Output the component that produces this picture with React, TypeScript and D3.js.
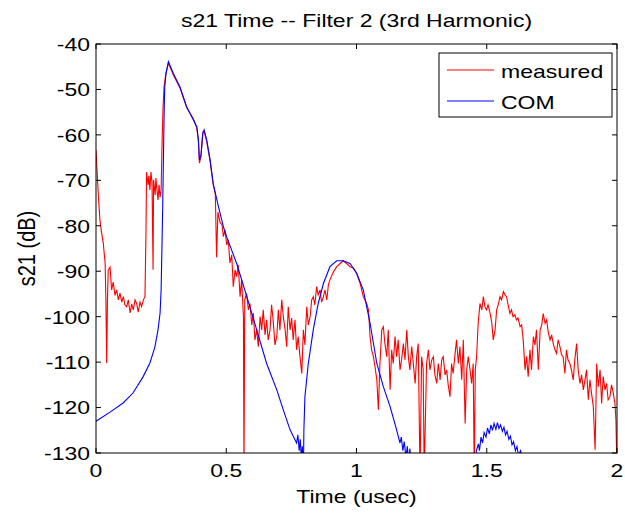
import React from "react";
import * as d3 from "d3";

// ---- data ----
const measuredT = [
  0.000, 0.004, 0.010, 0.015, 0.021, 0.028, 0.032, 0.035, 0.038, 0.041, 0.044, 0.047, 0.054, 0.060, 0.066,
  0.073, 0.079, 0.086, 0.092, 0.099, 0.105, 0.111, 0.118, 0.124, 0.131, 0.137, 0.143, 0.150, 0.156, 0.162,
  0.169, 0.175, 0.182, 0.188, 0.192, 0.194, 0.200, 0.203, 0.207, 0.211, 0.215, 0.219, 0.221, 0.227, 0.230,
  0.234, 0.238, 0.242, 0.246, 0.250, 0.253, 0.257, 0.261, 0.268, 0.278, 0.297, 0.322, 0.348, 0.374, 0.387,
  0.393, 0.397, 0.403, 0.410, 0.415, 0.425, 0.438, 0.450, 0.458, 0.463, 0.468, 0.476, 0.484, 0.489, 0.495,
  0.502, 0.508, 0.514, 0.521, 0.527, 0.534, 0.540, 0.546, 0.553, 0.559, 0.566, 0.568, 0.571, 0.578, 0.585,
  0.591, 0.598, 0.604, 0.610, 0.617, 0.623, 0.630, 0.636, 0.642, 0.649, 0.655, 0.661, 0.668, 0.674, 0.680,
  0.687, 0.694, 0.700, 0.706, 0.713, 0.719, 0.726, 0.732, 0.738, 0.745, 0.751, 0.757, 0.764, 0.770, 0.776,
  0.783, 0.790, 0.796, 0.802, 0.809, 0.815, 0.822, 0.828, 0.834, 0.840, 0.847, 0.853, 0.860, 0.866, 0.873,
  0.879, 0.886, 0.892, 0.898, 0.911, 0.924, 0.937, 0.949, 0.962, 0.975, 0.988, 1.001, 1.014, 1.026, 1.039,
  1.046, 1.052, 1.058, 1.065, 1.071, 1.078, 1.084, 1.090, 1.097, 1.103, 1.109, 1.116, 1.122, 1.129, 1.135,
  1.141, 1.148, 1.154, 1.160, 1.167, 1.173, 1.180, 1.186, 1.193, 1.199, 1.205, 1.212, 1.218, 1.225, 1.231,
  1.237, 1.244, 1.250, 1.256, 1.260, 1.269, 1.276, 1.282, 1.289, 1.295, 1.301, 1.308, 1.314, 1.321, 1.327,
  1.333, 1.340, 1.346, 1.352, 1.359, 1.365, 1.371, 1.378, 1.384, 1.391, 1.397, 1.404, 1.410, 1.417, 1.423,
  1.429, 1.436, 1.442, 1.448, 1.452, 1.456, 1.461, 1.467, 1.474, 1.481, 1.487, 1.493, 1.499, 1.505, 1.513,
  1.519, 1.525, 1.532, 1.538, 1.544, 1.551, 1.557, 1.564, 1.570, 1.576, 1.582, 1.589, 1.595, 1.601, 1.608,
  1.614, 1.620, 1.628, 1.634, 1.640, 1.647, 1.653, 1.659, 1.666, 1.672, 1.679, 1.685, 1.691, 1.698, 1.705,
  1.711, 1.717, 1.724, 1.730, 1.736, 1.743, 1.749, 1.755, 1.762, 1.768, 1.774, 1.781, 1.787, 1.793, 1.800,
  1.806, 1.812, 1.819, 1.825, 1.832, 1.838, 1.845, 1.851, 1.858, 1.864, 1.871, 1.877, 1.883, 1.890, 1.896,
  1.903, 1.909, 1.916, 1.922, 1.928, 1.935, 1.941, 1.947, 1.954, 1.960, 1.966, 1.973, 1.979, 1.986, 1.992,
  1.996, 2.000,
];
const measuredDb = [
  -63.3, -67.7, -74.3, -78.7, -81.4, -83.8, -86.4, -88.2, -96.3, -110.2, -96.3, -89.7, -89.1, -94.1, -92.4,
  -95.3, -94.1, -96.3, -94.8, -96.8, -95.6, -97.4, -97.8, -96.3, -99.2, -97.2, -98.5, -96.3, -97.1, -99.0,
  -96.8, -97.8, -96.3, -95.6, -80.9, -68.2, -71.0, -69.0, -72.1, -68.2, -70.4, -89.7, -69.9, -73.2, -69.5,
  -72.1, -74.3, -71.0, -73.7, -72.1, -63.3, -54.5, -49.5, -46.6, -44.2, -46.8, -49.6, -54.0, -56.5, -58.5,
  -61.3, -66.2, -64.8, -59.4, -59.2, -61.5, -65.8, -71.0, -73.0, -86.9, -77.0, -79.2, -79.8, -82.4, -80.9,
  -84.2, -83.1, -88.2, -86.4, -93.4, -89.7, -91.2, -88.6, -95.6, -91.9, -100.0, -135.0, -96.3, -94.9, -98.5,
  -97.1, -101.8, -99.2, -105.1, -102.9, -106.6, -100.0, -102.9, -98.5, -104.0, -100.7, -105.1, -102.9, -97.4, -100.7,
  -106.2, -104.4, -98.5, -102.9, -96.3, -100.0, -102.9, -106.6, -97.8, -102.9, -100.3, -105.1, -100.7, -107.3, -104.4,
  -108.8, -112.5, -102.9, -106.2, -97.8, -101.8, -100.0, -96.3, -95.6, -97.4, -93.4, -95.2, -94.1, -96.8, -95.6,
  -94.1, -96.3, -93.0, -91.9, -90.2, -89.0, -88.3, -87.7, -88.3, -89.0, -89.3, -90.5, -92.7, -95.6, -97.1,
  -98.5, -104.4, -107.3, -108.8, -111.0, -113.9, -120.5, -110.3, -102.9, -102.2, -105.9, -108.8, -102.9, -116.1, -107.3,
  -110.3, -104.4, -108.8, -105.1, -111.7, -109.5, -105.9, -109.5, -102.9, -108.8, -111.7, -106.6, -110.3, -114.7, -108.8,
  -105.9, -135.0, -108.8, -111.7, -135.0, -110.3, -107.3, -111.7, -109.5, -108.8, -112.8, -114.7, -110.3, -113.9, -109.5,
  -108.8, -112.8, -111.7, -115.0, -117.6, -110.3, -112.5, -108.4, -105.1, -110.3, -106.6, -113.9, -105.1, -123.5, -111.7,
  -108.8, -111.7, -114.7, -110.3, -135.0, -111.7, -108.8, -101.5, -97.1, -98.5, -95.6, -97.8, -98.5, -97.4, -99.3,
  -101.2, -105.1, -102.9, -98.5, -97.4, -95.6, -96.3, -94.5, -95.2, -95.6, -97.4, -99.3, -98.5, -100.0, -99.6,
  -100.7, -100.3, -102.2, -101.8, -105.1, -111.7, -108.8, -113.2, -107.3, -111.7, -104.4, -106.2, -102.9, -111.7, -102.9,
  -101.8, -99.3, -101.5, -100.7, -103.4, -105.1, -104.0, -105.9, -107.3, -108.1, -105.1, -106.6, -108.4, -108.8, -112.5,
  -107.3, -109.5, -110.3, -111.7, -113.9, -109.5, -105.9, -111.7, -114.7, -112.8, -116.1, -113.9, -111.7, -118.3, -113.9,
  -117.2, -119.8, -129.3, -110.3, -115.4, -111.7, -119.1, -113.2, -116.1, -114.7, -118.3, -117.6, -115.0, -116.9, -119.1,
  -122.8, -135.0,
];

const comT = [
  0.000, 0.054, 0.104, 0.142, 0.180, 0.207, 0.226, 0.238, 0.246, 0.250, 0.252, 0.254, 0.256, 0.258, 0.260,
  0.262, 0.264, 0.269, 0.278, 0.297, 0.322, 0.348, 0.374, 0.387, 0.393, 0.397, 0.403, 0.410, 0.415, 0.425,
  0.438, 0.450, 0.470, 0.489, 0.502, 0.540, 0.579, 0.617, 0.655, 0.694, 0.719, 0.745, 0.770, 0.775, 0.780,
  0.784, 0.788, 0.792, 0.796, 0.798, 0.802, 0.815, 0.834, 0.853, 0.873, 0.898, 0.924, 0.949, 0.975, 1.001,
  1.026, 1.052, 1.078, 1.103, 1.129, 1.154, 1.167, 1.172, 1.178, 1.183, 1.190, 1.195, 1.200, 1.205, 1.212,
  1.300, 1.450, 1.455, 1.460, 1.468, 1.472, 1.478, 1.484, 1.490, 1.497, 1.503, 1.510, 1.516, 1.522, 1.528,
  1.535, 1.541, 1.547, 1.553, 1.560, 1.566, 1.572, 1.578, 1.585, 1.591, 1.597, 1.603, 1.610, 1.616, 1.622,
  1.630, 1.640, 1.650, 1.700, 2.000,
];
const comDb = [
  -123.0, -121.0, -119.0, -116.8, -113.3, -110.2, -106.7, -102.9, -99.2, -94.1, -88.2, -82.0, -76.0, -68.4, -61.1,
  -53.8, -49.4, -46.4, -43.9, -46.5, -49.4, -53.8, -56.7, -58.2, -61.1, -65.5, -64.4, -59.7, -58.9, -61.1,
  -65.5, -70.7, -75.8, -80.2, -82.5, -88.3, -95.6, -102.9, -110.3, -116.1, -120.5, -124.9, -127.8, -126.0, -129.5,
  -127.0, -131.0, -128.5, -135.0, -125.0, -117.6, -110.3, -102.9, -97.1, -92.7, -89.0, -87.7, -87.7, -88.3, -90.5,
  -94.1, -101.4, -110.3, -115.4, -119.8, -124.9, -127.8, -126.5, -129.5, -127.5, -131.0, -128.5, -132.0, -129.0, -135.0,
  -150.0, -150.0, -135.0, -129.5, -128.0, -129.5, -126.5, -127.8, -125.5, -126.5, -124.5, -125.8, -123.8, -125.0, -123.5,
  -124.8, -123.3, -124.6, -123.8, -125.2, -124.3, -126.0, -125.2, -127.0, -126.3, -128.2, -127.5, -129.5, -128.6, -130.5,
  -129.5, -132.0, -135.0, -150.0, -150.0,
];

const xTicks = [0, 0.5, 1, 1.5, 2];
const xTickLabels = ["0", "0.5", "1", "1.5", "2"];
const yTicks = [-40, -50, -60, -70, -80, -90, -100, -110, -120, -130];
const yTickLabels = ["-40", "-50", "-60", "-70", "-80", "-90", "-100", "-110", "-120", "-130"];
const seriesNames = ["measured", "COM"];
const seriesColors = ["#ff0000", "#0000ff"];

const W = 625;
const H = 514;
const L = 96, R = 617, T = 44, B = 453;
const FONT = "'Liberation Sans', Arial, Helvetica, sans-serif";
const FS = 19;
const SX = 1.21; // horizontal stretch of the original rendering

function SText(props: { x: number; y: number; anchor?: string; children: React.ReactNode; dy?: string }) {
  return (
    <text
      transform={`translate(${props.x},${props.y}) scale(${SX},1)`}
      textAnchor={props.anchor || "start"}
      dy={props.dy}
      fontSize={FS}
      fill="#000"
    >
      {props.children}
    </text>
  );
}

export default function App() {
  const x = d3.scaleLinear().domain([0, 2]).range([L, R]);
  const y = d3.scaleLinear().domain([-130, -40]).range([B, T]);
  const mk = (ts: number[], vs: number[]) =>
    d3
      .line<number>()
      .x((t) => x(t))
      .y((_, i) => y(vs[i]))(ts) as string;
  const measuredPath = mk(measuredT, measuredDb);
  const comPath = mk(comT, comDb);
  const tick = 5;

  return (
    <svg
      width={W}
      height={H}
      style={{ position: "absolute", left: 0, top: 0, background: "#fff" }}
      fontFamily={FONT}
    >
      <rect x={0} y={0} width={W} height={H} fill="#fff" />
      <defs>
        <clipPath id="plotclip">
          <rect x={L} y={T} width={R - L} height={B - T} />
        </clipPath>
      </defs>
      <g clipPath="url(#plotclip)" fill="none" strokeWidth={1.1}>
        <path d={measuredPath} stroke={seriesColors[0]} />
        <path d={comPath} stroke={seriesColors[1]} />
      </g>
      <rect x={L} y={T} width={R - L} height={B - T} fill="none" stroke="#000" strokeWidth={1} />
      {xTicks.map((t, i) => (
        <g key={"x" + i}>
          <line x1={x(t)} x2={x(t)} y1={B} y2={B - tick} stroke="#000" />
          <line x1={x(t)} x2={x(t)} y1={T} y2={T + tick} stroke="#000" />
          <SText x={x(t)} y={477} anchor="middle">
            {xTickLabels[i]}
          </SText>
        </g>
      ))}
      {yTicks.map((v, i) => (
        <g key={"y" + i}>
          <line x1={L} x2={L + tick} y1={y(v)} y2={y(v)} stroke="#000" />
          <line x1={R} x2={R - tick} y1={y(v)} y2={y(v)} stroke="#000" />
          <SText x={90} y={y(v)} dy="0.36em" anchor="end">
            {yTickLabels[i]}
          </SText>
        </g>
      ))}
      <SText x={(L + R) / 2} y={27} anchor="middle">
        s21 Time -- Filter 2 (3rd Harmonic)
      </SText>
      <SText x={(L + R) / 2} y={503} anchor="middle">
        Time (usec)
      </SText>
      <text
        transform={`translate(35, ${(T + B) / 2}) scale(${SX},1) rotate(-90)`}
        textAnchor="middle"
        fontSize={20}
        fill="#000"
      >
        s21 (dB)
      </text>
      <g>
        <rect x={439} y={53} width={173} height={64} fill="#fff" stroke="#000" strokeWidth={1} />
        {seriesNames.map((n, i) => (
          <g key={n}>
            <line x1={447} x2={494} y1={70 + i * 31} y2={70 + i * 31} stroke={seriesColors[i]} strokeWidth={1.1} />
            <SText x={501} y={78 + i * 31}>
              {n}
            </SText>
          </g>
        ))}
      </g>
    </svg>
  );
}
